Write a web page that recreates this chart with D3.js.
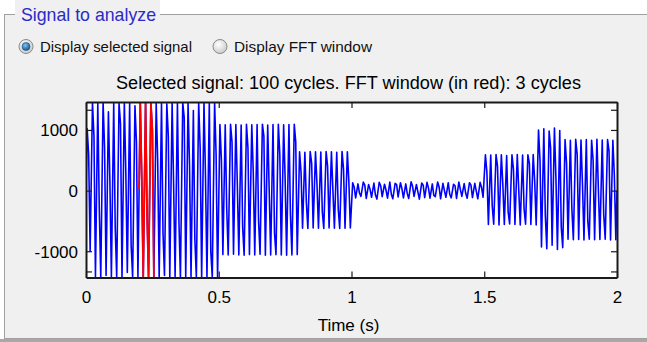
<!DOCTYPE html>
<html>
<head>
<meta charset="utf-8">
<script src="https://cdn.jsdelivr.net/npm/d3@7"></script>
<style>
  body { margin: 0; background: #ffffff; }
  svg { display: block; font-family: "Liberation Sans", Arial, sans-serif; }
</style>
</head>
<body>
<div id="chart"></div>
<script>
// signal: 100 cycles of 50 Hz over 2 s, values read per cycle
const period = 0.02;
const cycleHi = [
  1020, 1450, 1440, 1455, 1300, 1450, 1440, 1455, 1450, 1400, 1450, 1455, 1445, 1450, 1455, 1430, 1450, 1455, 1450, 1440, 1320, 1450, 1455, 1461, 1450,
  1090, 1085, 1095, 1090, 1080, 1095, 1085, 1090, 1095, 1080, 1090, 1095, 1085, 1090, 1095,
  640, 630, 645, 640, 635, 645, 640, 630, 645, 640,
  130, 110, 140, 100, 125, 135, 105, 140, 120, 130, 110, 145, 100, 125, 135, 110, 140, 120, 130, 105, 140, 115, 130, 120, 135,
  590, 585, 595, 590, 580, 590, 595, 585, 590, 595,
  1000, 1020, 980, 1030, 990,
  840, 830, 845, 835, 840, 830, 845, 835, 840, 830
];
// sample seen on the falling edge, between peak and trough
const cycleMid = [
  600, 900, -300, 700, 150, -600, 1100, 300, -900, 800, 200, -400, 1000, 500, -700, 900, 100, -500, 1200, 400, -800, 700, 250, -1000, 600,
  500, -300, 800, 100, -600, 700, 300, -500, 900, 0, -700, 600, 200, -400, 800,
  300, -200, 450, 100, -350, 400, 0, -300, 350, 150,
  60, -40, 90, 20, -70, 80, 10, -60, 100, 30, -50, 70, -20, 90, 40, -80, 60, 0, -60, 80, 20, -40, 90, -10, 50,
  300, -250, 400, 100, -350, 350, 0, -300, 450, 150,
  500, -400, 700, 200, -600,
  450, -300, 600, 100, -500, 500, 0, -400, 650, 250
];
const cycleLo = [
  -1000, -1420, -1433, -1400, -1425, -1420, -1433, -1350, -1430, -1420, -1433, -1430, -1420, -1433, -1400, -1430, -1420, -1433, -1430, -1420, -1430, -1433, -1425, -1430, -1433,
  -1055, -1060, -1050, -1060, -1065, -1055, -1060, -1050, -1065, -1060, -1055, -1060, -1065, -1060, -1055,
  -620, -625, -615, -620, -625, -615, -620, -625, -620, -615,
  -120, -95, -130, -110, -140, -100, -125, -135, -105, -120, -130, -95, -140, -115, -125, -100, -135, -110, -120, -130, -95, -125, -115, -135, -110,
  -560, -555, -565, -560, -550, -560, -565, -555, -560, -565,
  -930, -960, -900, -970, -940,
  -800, -810, -805, -815, -800, -810, -805, -800, -815, -810
];
const fftWindowCycles = [10, 11, 12];
const xTicks = [0, 0.5, 1, 1.5, 2];
const yTicks = [-1000, 0, 1000];
const yMinorTicks = [-1333, 1333];
const timeDomain = [0, 2];
const yDomain = [-1433, 1461];

const W = 647, H = 342;
const plot = { left: 86, right: 617, top: 102, bottom: 277.5 };

const svg = d3.select('#chart').append('svg')
  .attr('width', W)
  .attr('height', H);

// panel frame
svg.append('rect')
  .attr('x', 4.5).attr('y', 14.5)
  .attr('width', 700).attr('height', 324)
  .attr('fill', '#f0f0f0')
  .attr('stroke', '#a0a0a0');
svg.append('rect')
  .attr('x', 0).attr('y', 339)
  .attr('width', W).attr('height', 3)
  .attr('fill', '#a8a8a8');
svg.append('rect')
  .attr('x', 15).attr('y', 0)
  .attr('width', 145).attr('height', 28)
  .attr('fill', '#f0f0f0');
svg.append('text')
  .attr('x', 21).attr('y', 21)
  .attr('textLength', 135)
  .attr('lengthAdjust', 'spacingAndGlyphs')
  .style('font-size', '19px')
  .style('fill', '#2b2bc8')
  .text('Signal to analyze');

// radio buttons
const defs = svg.append('defs');
const gGray = defs.append('radialGradient').attr('id', 'rgray').attr('cx', '40%').attr('cy', '35%').attr('r', '70%');
gGray.append('stop').attr('offset', '0%').attr('stop-color', '#ffffff');
gGray.append('stop').attr('offset', '100%').attr('stop-color', '#c8c8c8');
const gBlue = defs.append('radialGradient').attr('id', 'rblue').attr('cx', '40%').attr('cy', '35%').attr('r', '70%');
gBlue.append('stop').attr('offset', '0%').attr('stop-color', '#7fc4f0');
gBlue.append('stop').attr('offset', '100%').attr('stop-color', '#0d4f92');

const radios = [
  { x: 26, label: 'Display selected signal', on: true, tx: 40, len: 152 },
  { x: 220, label: 'Display FFT window', on: false, tx: 234, len: 138 }
];
radios.forEach(r => {
  svg.append('circle').attr('cx', r.x).attr('cy', 46.5).attr('r', 7)
    .attr('fill', 'url(#rgray)').attr('stroke', '#8a8a8a');
  if (r.on) {
    svg.append('circle').attr('cx', r.x).attr('cy', 46.5).attr('r', 4)
      .attr('fill', 'url(#rblue)').attr('stroke', '#1b4f80').attr('stroke-width', 0.6);
  }
  svg.append('text')
    .attr('x', r.tx).attr('y', 52)
    .attr('textLength', r.len)
    .attr('lengthAdjust', 'spacingAndGlyphs')
    .style('font-size', '15px')
    .style('fill', '#111')
    .text(r.label);
});

// title
svg.append('text')
  .attr('x', 116).attr('y', 89)
  .attr('textLength', 465)
  .attr('lengthAdjust', 'spacingAndGlyphs')
  .style('font-size', '17.5px')
  .style('fill', '#000')
  .text('Selected signal: 100 cycles. FFT window (in red): 3 cycles');

const x = d3.scaleLinear().domain(timeDomain).range([plot.left, plot.right]);
const y = d3.scaleLinear().domain(yDomain).range([plot.bottom, plot.top]);

svg.append('rect')
  .attr('x', plot.left).attr('y', plot.top)
  .attr('width', plot.right - plot.left).attr('height', plot.bottom - plot.top)
  .attr('fill', '#ffffff');

defs.append('clipPath').attr('id', 'clip')
  .append('rect')
  .attr('x', plot.left).attr('y', plot.top)
  .attr('width', plot.right - plot.left).attr('height', plot.bottom - plot.top);

// build points from per-cycle samples
const points = [{ t: 0, v: 0 }];
cycleHi.forEach((hi, i) => {
  const t0 = i * period;
  points.push({ t: t0 + period * 0.22, v: hi });
  points.push({ t: t0 + period * 0.5, v: cycleMid[i] });
  points.push({ t: t0 + period * 0.78, v: cycleLo[i] });
});
points.push({ t: timeDomain[1], v: 0 });

const line = d3.line().x(d => x(d.t)).y(d => y(d.v));

const sig = svg.append('g').attr('clip-path', 'url(#clip)');
sig.append('path')
  .datum(points)
  .attr('d', line)
  .attr('fill', 'none')
  .attr('stroke', '#0000ff')
  .attr('stroke-width', 1.6)
  .attr('stroke-linejoin', 'round');

const w0 = fftWindowCycles[0] * period;
const w1 = (fftWindowCycles[fftWindowCycles.length - 1] + 1) * period;
const redPts = [{ t: w0, v: (cycleLo[fftWindowCycles[0] - 1] + cycleHi[fftWindowCycles[0]]) / 2 }]
  .concat(points.filter(p => p.t > w0 && p.t < w1));
sig.append('path')
  .datum(redPts)
  .attr('d', line)
  .attr('fill', 'none')
  .attr('stroke', '#ff0000')
  .attr('stroke-width', 1.8)
  .attr('stroke-linejoin', 'round');

// axes
const tickLen = 6;
const axisColor = '#1a1a1a';
const axisBottom = svg.append('g').attr('transform', `translate(0,${plot.bottom})`)
  .call(d3.axisBottom(x).tickValues(xTicks).tickSizeInner(-tickLen).tickSizeOuter(0).tickPadding(13).tickFormat(d3.format('')));
const axisTop = svg.append('g').attr('transform', `translate(0,${plot.top})`)
  .call(d3.axisTop(x).tickValues(xTicks).tickSizeInner(-tickLen).tickSizeOuter(0).tickFormat(''));
const axisLeft = svg.append('g').attr('transform', `translate(${plot.left},0)`)
  .call(d3.axisLeft(y).tickValues(yTicks.concat(yMinorTicks)).tickSizeInner(-tickLen).tickSizeOuter(0).tickPadding(8)
    .tickFormat(d => yTicks.includes(d) ? d : ''));
const axisRight = svg.append('g').attr('transform', `translate(${plot.right},0)`)
  .call(d3.axisRight(y).tickValues(yTicks.concat(yMinorTicks)).tickSizeInner(-tickLen).tickSizeOuter(0).tickFormat(''));

[axisBottom, axisTop, axisLeft, axisRight].forEach(a => {
  a.select('.domain').attr('stroke', axisColor).attr('stroke-width', 2);
  a.selectAll('.tick line').attr('stroke', axisColor).attr('stroke-width', 1.2);
  a.selectAll('text').style('font-size', '17px').style('fill', '#000')
    .style('font-family', '"Liberation Sans", Arial, sans-serif');
});
axisLeft.selectAll('text').attr('dy', '0.35em');

svg.append('text')
  .attr('x', (plot.left + plot.right) / 2 - 3)
  .attr('y', 331)
  .attr('text-anchor', 'middle')
  .style('font-size', '17px')
  .text('Time (s)');
</script>
</body>
</html>
